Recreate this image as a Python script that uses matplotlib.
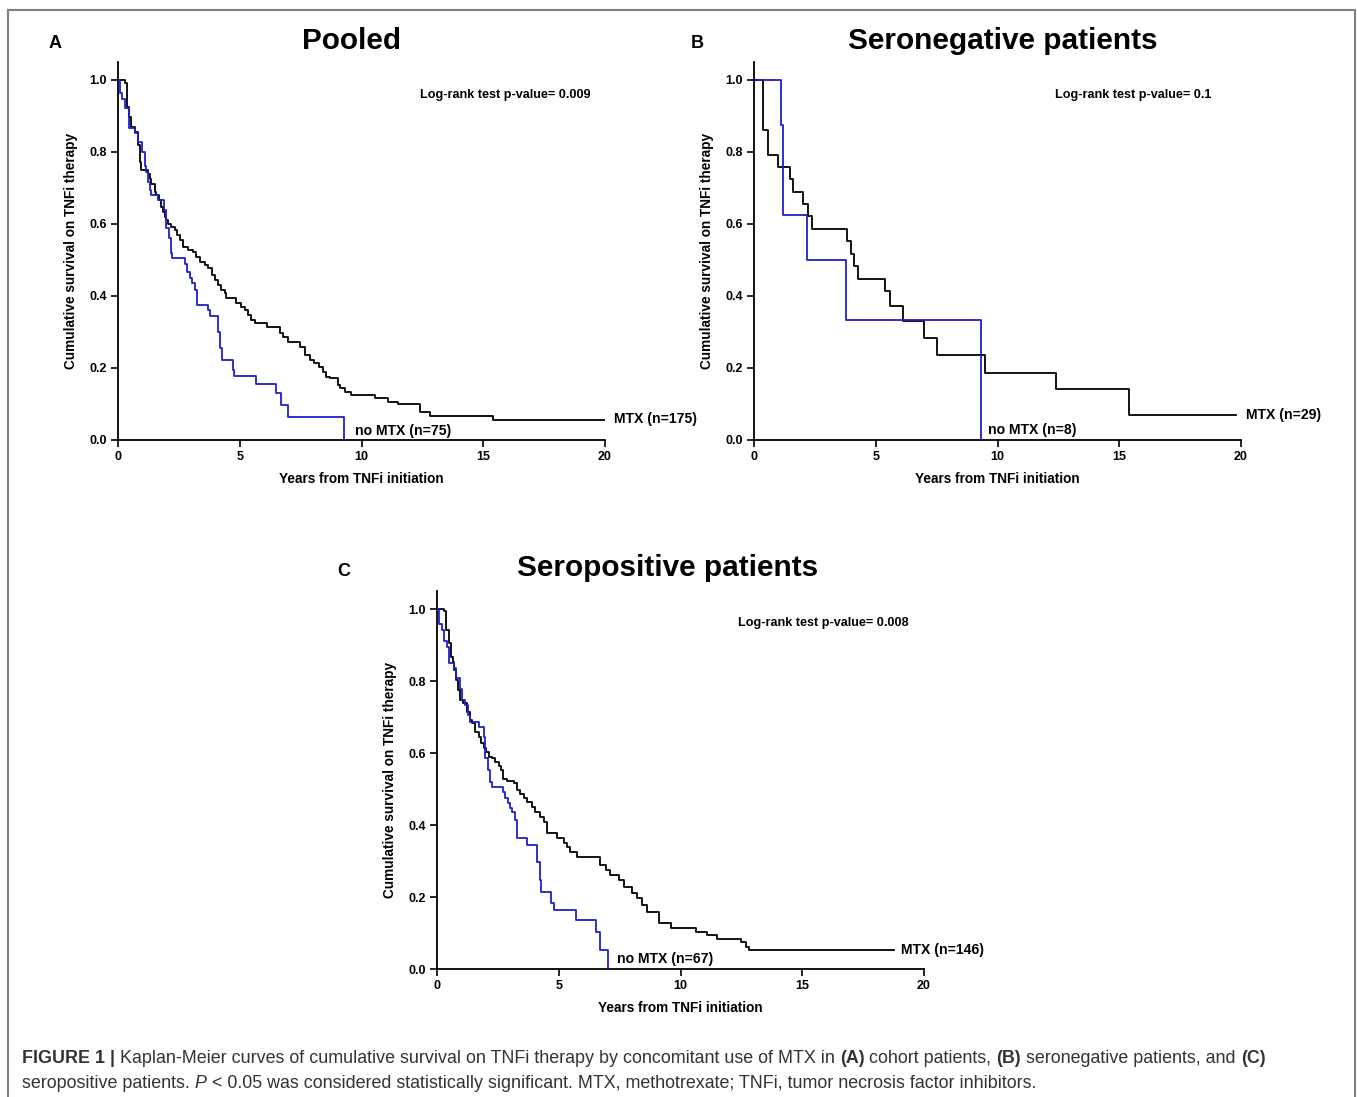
import matplotlib
matplotlib.use("Agg")
import matplotlib.pyplot as plt
from matplotlib.lines import Line2D

plt.rcParams['font.family'] = ['Liberation Sans', 'DejaVu Sans']

# ---------------- data ----------------
# Panel A: pooled
A_mtx_t = [0, 0.27, 0.37, 0.45, 0.55, 0.68, 0.82, 0.89, 0.96, 1.23, 1.30, 1.37, 1.51, 1.58, 1.68,
           1.75, 1.85, 1.92, 1.99, 2.05, 2.19, 2.33, 2.42, 2.53, 2.67, 2.88, 3.08, 3.22, 3.36, 3.56,
           3.70, 3.84, 3.97, 4.11, 4.25, 4.38, 4.45, 4.86, 5.07, 5.21, 5.34, 5.48, 5.62, 6.10, 6.64,
           6.78, 6.99, 7.47, 7.70, 7.90, 8.05, 8.25, 8.40, 8.56, 8.70, 9.04, 9.11, 9.32, 9.55, 10.55,
           11.1, 11.5, 12.4, 12.8, 15.4, 20.0]
A_mtx_s = [1.0, 0.993, 0.926, 0.898, 0.870, 0.856, 0.82, 0.773, 0.75, 0.74, 0.725, 0.71, 0.69, 0.68,
           0.667, 0.648, 0.634, 0.62, 0.611, 0.60, 0.593, 0.583, 0.569, 0.556, 0.537, 0.528, 0.523,
           0.509, 0.495, 0.486, 0.477, 0.458, 0.444, 0.43, 0.417, 0.407, 0.394, 0.38, 0.37, 0.361,
           0.347, 0.333, 0.324, 0.315, 0.298, 0.287, 0.273, 0.258, 0.236, 0.222, 0.213, 0.204, 0.19,
           0.176, 0.171, 0.153, 0.144, 0.134, 0.125, 0.116, 0.106, 0.10, 0.079, 0.068, 0.056, 0.056]
A_nomtx_t = [0, 0.07, 0.18, 0.27, 0.46, 0.68, 0.81, 0.99, 1.10, 1.16, 1.23, 1.30, 1.37, 1.64, 1.88,
             1.99, 2.08, 2.16, 2.23, 2.74, 2.84, 2.95, 3.04, 3.15, 3.26, 3.68, 3.78, 4.11, 4.18, 4.28,
             4.72, 4.77, 5.68, 6.48, 6.68, 6.99, 9.30]
A_nomtx_s = [1.0, 0.963, 0.946, 0.921, 0.866, 0.854, 0.829, 0.80, 0.76, 0.745, 0.718, 0.694, 0.68,
             0.667, 0.639, 0.588, 0.56, 0.519, 0.505, 0.49, 0.468, 0.45, 0.435, 0.417, 0.375, 0.361,
             0.344, 0.30, 0.255, 0.222, 0.194, 0.178, 0.156, 0.13, 0.097, 0.065, 0.0]

# Panel B: seronegative
B_mtx_t = [0, 0.38, 0.59, 0.97, 1.48, 1.59, 2.0, 2.21, 2.40, 3.81, 3.97, 4.11, 4.29, 5.40, 5.59,
           6.10, 7.0, 7.51, 9.49, 12.4, 15.41, 19.8]
B_mtx_s = [1.0, 0.862, 0.793, 0.759, 0.724, 0.690, 0.655, 0.621, 0.586, 0.552, 0.517, 0.483, 0.448,
           0.414, 0.372, 0.330, 0.282, 0.235, 0.187, 0.141, 0.069, 0.069]
B_nomtx_t = [0, 1.10, 1.18, 2.19, 3.79, 9.32]
B_nomtx_s = [1.0, 0.875, 0.625, 0.5, 0.333, 0.0]

# Panel C: seropositive
C_mtx_t = [0, 0.30, 0.38, 0.48, 0.58, 0.64, 0.71, 0.79, 0.86, 0.93, 1.07, 1.23, 1.34, 1.44, 1.58,
           1.71, 1.82, 1.95, 2.03, 2.12, 2.26, 2.40, 2.53, 2.63, 2.71, 2.88, 3.15, 3.29, 3.42, 3.59,
           3.70, 3.90, 4.04, 4.25, 4.38, 4.52, 4.93, 5.21, 5.34, 5.48, 5.75, 6.71, 6.92, 7.12, 7.47,
           7.70, 8.01, 8.22, 8.42, 8.63, 9.11, 9.59, 10.62, 11.1, 11.5, 12.47, 12.67, 12.8, 18.77]
C_mtx_s = [1.0, 0.995, 0.942, 0.906, 0.868, 0.854, 0.831, 0.803, 0.775, 0.747, 0.738, 0.715, 0.692,
           0.682, 0.659, 0.645, 0.627, 0.613, 0.604, 0.59, 0.585, 0.576, 0.564, 0.553, 0.527, 0.522,
           0.516, 0.497, 0.486, 0.474, 0.465, 0.451, 0.437, 0.423, 0.409, 0.377, 0.363, 0.349, 0.34,
           0.326, 0.312, 0.289, 0.275, 0.261, 0.247, 0.229, 0.21, 0.196, 0.178, 0.159, 0.127, 0.113,
           0.104, 0.094, 0.083, 0.076, 0.062, 0.053, 0.053]
C_nomtx_t = [0, 0.07, 0.21, 0.30, 0.41, 0.51, 0.68, 0.79, 0.93, 1.03, 1.16, 1.27, 1.37, 1.71, 1.92,
             1.99, 2.10, 2.19, 2.26, 2.70, 2.81, 2.90, 2.99, 3.08, 3.19, 3.29, 3.70, 4.11, 4.21, 4.29,
             4.70, 4.79, 5.70, 6.51, 6.71, 7.01]
C_nomtx_s = [1.0, 0.958, 0.942, 0.912, 0.895, 0.851, 0.835, 0.807, 0.777, 0.747, 0.733, 0.706,
             0.687, 0.673, 0.645, 0.585, 0.553, 0.52, 0.506, 0.493, 0.474, 0.46, 0.446, 0.437, 0.414,
             0.363, 0.344, 0.298, 0.247, 0.215, 0.182, 0.164, 0.136, 0.104, 0.053, 0.0]

titles = ["Pooled", "Seronegative patients", "Seropositive patients"]
letters = ["A", "B", "C"]
pvalues = ["Log-rank test p-value= 0.009", "Log-rank test p-value= 0.1", "Log-rank test p-value= 0.008"]
mtx_labels = ["MTX (n=175)", "MTX (n=29)", "MTX (n=146)"]
nomtx_labels = ["no MTX (n=75)", "no MTX (n=8)", "no MTX (n=67)"]
x_ticks = [0, 5, 10, 15, 20]
y_ticks = [0.0, 0.2, 0.4, 0.6, 0.8, 1.0]
xlabel = "Years from TNFi initiation"
ylabel = "Cumulative survival on TNFi therapy"

# ---------------- figure ----------------
W, H = 1357, 1097
fig = plt.figure(figsize=(W / 100, H / 100), dpi=100)
fig.patch.set_facecolor("white")

BLUE = "#1f1fcc"


def px_axes(left, bottom, right, top):
    return fig.add_axes([left / W, 1 - bottom / H, (right - left) / W, (bottom - top) / H])


panels = [
    dict(box=(118, 440, 605, 62), mtx=(A_mtx_t, A_mtx_s), nomtx=(A_nomtx_t, A_nomtx_s),
         title_xy=(351, 41), letter_xy=(55, 44),
         p_xy=(12.4, 0.958), mtx_xy=(20.35, 0.058), nomtx_xy=(9.75, 0.025)),
    dict(box=(754, 440, 1241, 62), mtx=(B_mtx_t, B_mtx_s), nomtx=(B_nomtx_t, B_nomtx_s),
         title_xy=(1003, 41), letter_xy=(697, 44),
         p_xy=(12.36, 0.958), mtx_xy=(20.2, 0.069), nomtx_xy=(9.61, 0.028)),
    dict(box=(437, 969, 924, 591), mtx=(C_mtx_t, C_mtx_s), nomtx=(C_nomtx_t, C_nomtx_s),
         title_xy=(668, 568), letter_xy=(344, 572),
         p_xy=(12.37, 0.961), mtx_xy=(19.07, 0.053), nomtx_xy=(7.4, 0.028)),
]

for i, p in enumerate(panels):
    ax = px_axes(*p["box"])
    ax.step(p["mtx"][0], p["mtx"][1], where="post", color="black", lw=1.3, zorder=3)
    ax.step(p["nomtx"][0], p["nomtx"][1], where="post", color=BLUE, lw=1.3, zorder=3)
    ax.set_xlim(0, 20)
    ax.set_ylim(0, 1.05)
    for s in ("top", "right"):
        ax.spines[s].set_visible(False)
    for s in ("left", "bottom"):
        ax.spines[s].set_linewidth(1.3)
    ax.set_xticks(x_ticks)
    ax.set_xticklabels([str(v) for v in x_ticks])
    ax.set_yticks(y_ticks)
    ax.set_yticklabels([f"{v:.1f}" for v in y_ticks])
    ax.tick_params(direction="out", length=5, width=1.2, labelsize=9, pad=3)
    for lab in ax.get_xticklabels() + ax.get_yticklabels():
        lab.set_fontweight("bold")
    ax.set_xlabel(xlabel, fontsize=9.8, fontweight="bold")
    ax.set_ylabel(ylabel, fontsize=9.8, fontweight="bold")
    ax.xaxis.set_label_coords(0.5, -(472 - 440) / 378)
    ax.yaxis.set_label_coords(-(118 - 78) / 487, 0.5)
    ax.text(*p["p_xy"], pvalues[i], fontsize=9.1, fontweight="bold", ha="left", va="center")
    ax.text(*p["mtx_xy"], mtx_labels[i], fontsize=10.1, fontweight="bold", ha="left", va="center",
            clip_on=False)
    ax.text(*p["nomtx_xy"], nomtx_labels[i], fontsize=10.1, fontweight="bold", ha="left", va="center",
            clip_on=False)
    tx, ty = p["title_xy"]
    fig.text(tx / W, 1 - ty / H, titles[i], fontsize=21.4, fontweight="bold", ha="center", va="center")
    lx, ly = p["letter_xy"]
    fig.text(lx / W, 1 - ly / H, letters[i], fontsize=13, fontweight="bold", ha="center", va="center")

# border (open at bottom)
border_col = "#7f7f7f"
fig.add_artist(Line2D([8 / W, 8 / W], [0, 1 - 10 / H], transform=fig.transFigure, color=border_col, lw=1.5))
fig.add_artist(Line2D([8 / W, 1355 / W], [1 - 10 / H, 1 - 10 / H], transform=fig.transFigure, color=border_col, lw=1.5))
fig.add_artist(Line2D([1355 / W, 1355 / W], [0, 1 - 10 / H], transform=fig.transFigure, color=border_col, lw=1.5))

# caption with mixed styles
cap_col = "#333333"
cap_size = 12.9
line1 = [("FIGURE 1 |", "bold", "normal"),
         (" Kaplan-Meier curves of cumulative survival on TNFi therapy by concomitant use of MTX in ", "normal", "normal"),
         ("(A)", "bold", "normal"), (" cohort patients, ", "normal", "normal"),
         ("(B)", "bold", "normal"), (" seronegative patients, and ", "normal", "normal"),
         ("(C)", "bold", "normal")]
line2 = [("seropositive patients. ", "normal", "normal"), ("P", "normal", "italic"),
         (" < 0.05 was considered statistically significant. MTX, methotrexate; TNFi, tumor necrosis factor inhibitors.",
          "normal", "normal")]

renderer = fig.canvas.get_renderer()


def draw_runs(runs, x0, y0):
    x = x0
    for txt, wt, st in runs:
        t = fig.text(x / W, 1 - y0 / H, txt, fontsize=cap_size, fontweight=wt, fontstyle=st,
                     color=cap_col, ha="left", va="baseline")
        bb = t.get_window_extent(renderer)
        x += bb.width


draw_runs(line1, 22, 1063)
draw_runs(line2, 22, 1088)

fig.savefig("out.png", dpi=100)
